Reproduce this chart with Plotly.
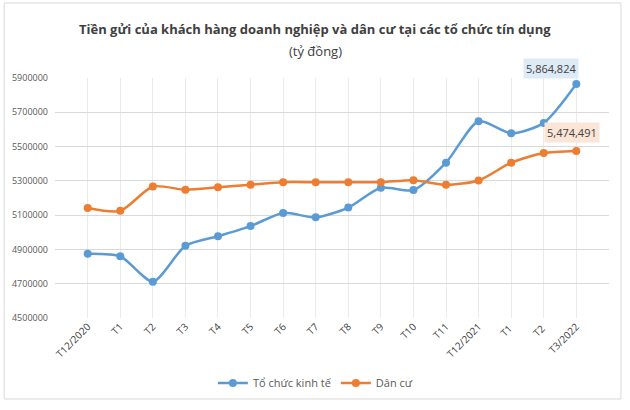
import plotly.graph_objects as go

categories = ["T12/2020", "T1", "T2", "T3", "T4", "T5", "T6", "T7", "T8", "T9",
              "T10", "T11", "T12/2021", "T1 ", "T2 ", "T3/2022"]
to_chuc_kinh_te = [4875000, 4860000, 4712000, 4921000, 4977000, 5036000, 5113000, 5087000,
                   5144000, 5260000, 5246000, 5406000, 5648000, 5577000, 5638000, 5864824]
dan_cu = [5142000, 5125000, 5267000, 5248000, 5262000, 5277000, 5292000, 5292000,
          5292000, 5292000, 5304000, 5277000, 5302000, 5406000, 5462000, 5474491]
y_ticks = [4500000, 4700000, 4900000, 5100000, 5300000, 5500000, 5700000, 5900000]

BLUE = "#5B9BD5"
ORANGE = "#ED7D31"
FONT = "Open Sans"

fig = go.Figure()
fig.add_trace(go.Scatter(x=categories, y=to_chuc_kinh_te, name="Tổ chức kinh tế",
                         mode="lines+markers", line=dict(color=BLUE, width=2.5, shape="spline", smoothing=0.7),
                         marker=dict(size=8, color=BLUE)))
fig.add_trace(go.Scatter(x=categories, y=dan_cu, name="Dân cư",
                         mode="lines+markers", line=dict(color=ORANGE, width=2.5, shape="spline", smoothing=0.7),
                         marker=dict(size=8, color=ORANGE)))

fig.add_annotation(x=categories[-1], y=to_chuc_kinh_te[-1], text=f"{to_chuc_kinh_te[-1]:,}",
                   showarrow=False, xshift=-25, yshift=16, bgcolor="#DDEBF7",
                   font=dict(family=FONT, size=11, color="#404040"), borderpad=2)
fig.add_annotation(x=categories[-1], y=dan_cu[-1], text=f"{dan_cu[-1]:,}",
                   showarrow=False, xshift=-4, yshift=18, bgcolor="#FBE5D6",
                   font=dict(family=FONT, size=11, color="#404040"), borderpad=2)

fig.add_annotation(xref="paper", yref="paper", x=0.47, y=1, yshift=60, showarrow=False,
                   text="<b>Tiền gửi của khách hàng doanh nghiệp và dân cư tại các tổ chức tín dụng</b>",
                   font=dict(family=FONT, size=13, color="#404040"))
fig.add_annotation(xref="paper", yref="paper", x=0.47, y=1, yshift=38, showarrow=False,
                   text="(tỷ đồng)", font=dict(family=FONT, size=13, color="#404040"))

fig.update_layout(
    width=630, height=410,
    margin=dict(l=53, r=21, t=78, b=89),
    paper_bgcolor="white", plot_bgcolor="white",
    showlegend=True,
    legend=dict(orientation="h", x=0.47, xanchor="center", y=-0.21, yanchor="top",
                font=dict(family=FONT, size=11, color="#595959")),
    xaxis=dict(type="category", tickangle=-45, showgrid=True, gridcolor="#EBEBEB",
               tickfont=dict(family=FONT, size=10, color="#404040"), showline=False,
               ticks="", zeroline=False),
    yaxis=dict(range=[4500000, 5900000], tickvals=y_ticks, ticktext=[str(v) for v in y_ticks],
               showgrid=True, gridcolor="#D9D9D9", zeroline=False, ticklabelstandoff=6,
               tickfont=dict(family=FONT, size=9, color="#595959")),
    shapes=[dict(type="rect", xref="paper", yref="paper",
                 x0=-51/556, x1=(621-53)/556, y0=-(403-321)/243, y1=1 + (78-2)/243,
                 line=dict(color="#D9D9D9", width=1), fillcolor="rgba(0,0,0,0)", layer="below")],
)

fig.write_html("out.html")
